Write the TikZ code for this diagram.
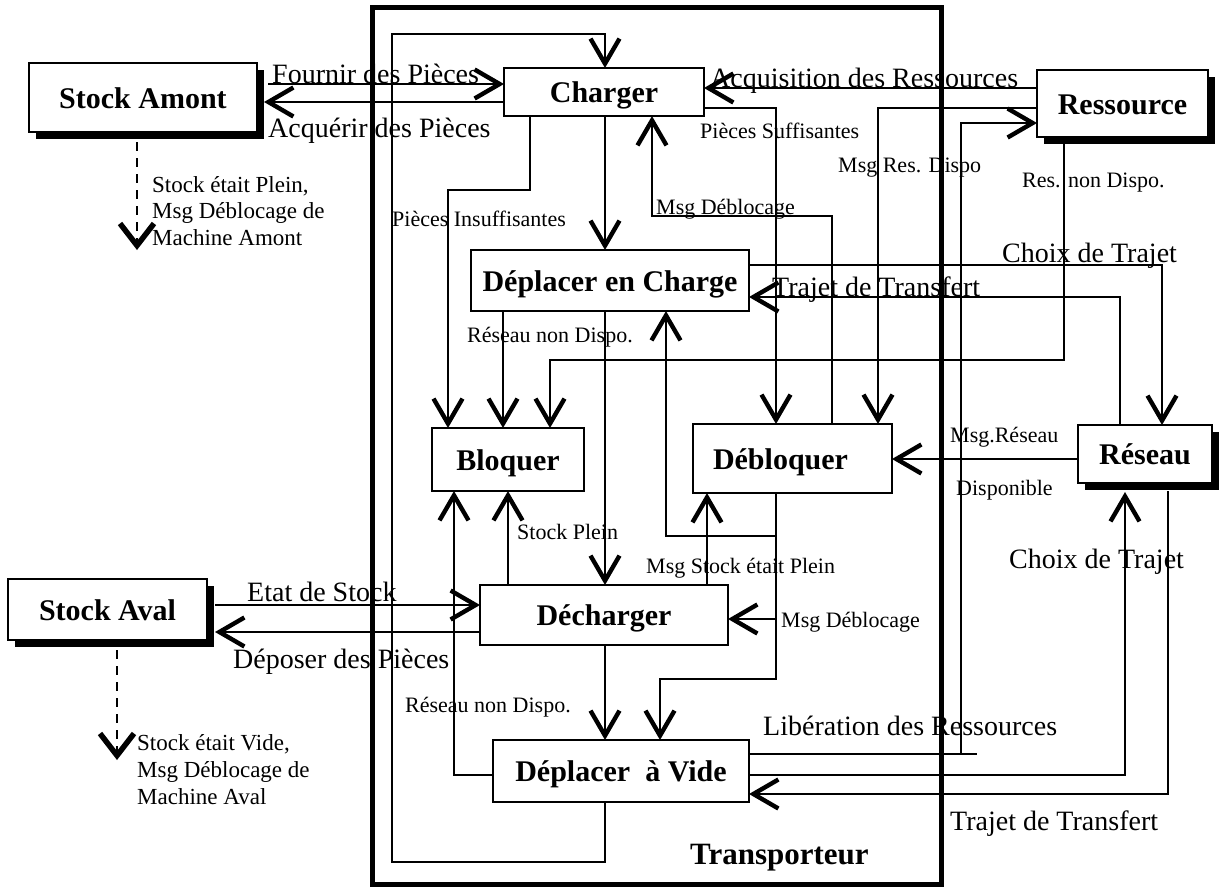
\documentclass[tikz,border=0pt]{standalone}
\usepackage{fontspec}
\setmainfont{Liberation Serif}
\usetikzlibrary{arrows.meta,shadows}
\tikzset{
  bigtip/.tip={Straight Barb[length=25pt,width=29pt,line width=4.4pt]},
  dashtip/.tip={Straight Barb[length=22pt,width=34pt,line width=5.5pt]},
}
\begin{document}
\begin{tikzpicture}[x=1pt,y=-1pt,
  box/.style={draw, line width=2.2pt, inner sep=0pt, outer sep=0pt, fill=white,
    font=\bfseries\fontsize{30}{32}\selectfont, text height=21pt, text depth=0pt},
  shad/.style={drop shadow={shadow xshift=7pt, shadow yshift=-7pt, opacity=1, fill=black}},
  conn/.style={line width=1.9pt},
  arr/.style={conn, arrows={-bigtip}},
  dasharr/.style={line width=2pt, dash pattern=on 9pt off 7pt, arrows={-dashtip}},
  big/.style={font=\fontsize{28}{30}\selectfont, anchor=base west, inner sep=0pt},
  small/.style={font=\fontsize{22}{24}\selectfont, anchor=base west, inner sep=0pt},
  note/.style={font=\fontsize{23}{25}\selectfont, anchor=base west, inner sep=0pt},
  title/.style={font=\bfseries\fontsize{31}{33}\selectfont, anchor=base west, inner sep=0pt},
]
\useasboundingbox (0,0) rectangle (1219,887);
\fill[white] (0,0) rectangle (1219,887);

% Transporteur frame
\node[draw, line width=5pt, inner sep=0pt, outer sep=0pt, minimum width=569pt, minimum height=877pt] (Transp) at (656.5,445.5) {};
\node[title] (TranspT) at (690,864) {Transporteur};

% boxes
\node[box, shad, minimum width=228pt, minimum height=69pt] (StockAmont) at (143,97.5) {Stock Amont};
\node[box, minimum width=200pt, minimum height=48pt] (Charger) at (604,92) {Charger};
\node[box, shad, minimum width=171pt, minimum height=67pt] (Ressource) at (1122.5,103.5) {Ressource};
\node[box, minimum width=278pt, minimum height=61pt] (DepCharge) at (610,280.5) {Déplacer en Charge};
\node[box, minimum width=152pt, minimum height=63pt] (Bloquer) at (508,459.5) {Bloquer};
\node[box, minimum width=199pt, minimum height=69pt] (Debloquer) at (792.5,458.5) {Débloquer\hspace*{24pt}};
\node[box, shad, minimum width=134pt, minimum height=58pt] (Reseau) at (1145,454) {Réseau};
\node[box, shad, minimum width=199pt, minimum height=61pt] (StockAval) at (107.5,609.5) {Stock Aval};
\node[box, minimum width=248pt, minimum height=60pt] (Decharger) at (604,615) {Décharger};
\node[box, minimum width=256pt, minimum height=62pt] (DepVide) at (621,771) {Déplacer\enspace à Vide};

% free-end coordinates
\coordinate (f0) at (268,84);
\coordinate (sa2) at (264,102);
\coordinate (d1) at (137,142);
\coordinate (d2) at (137,250);
\coordinate (e1) at (117,650);
\coordinate (e2) at (117,760);
\coordinate (sv1) at (215,605);
\coordinate (sv2) at (215,632);
\coordinate (lib) at (977,754);

% Stock Amont <-> Charger
\draw[arr] (f0) -- (Charger.west |- f0);
\draw[arr] (Charger.west |- sa2) -- (sa2);
\draw[dasharr] (d1) -- (d2);

% loop Deplacer a Vide -> Charger
\draw[arr] (605,0 |- DepVide.south) -- (605,862) -- (392,862) -- (392,34) -- (605,34) -- (605,0 |- Charger.north);

% Charger outputs
\draw[arr] (605,0 |- Charger.south) -- (605,0 |- DepCharge.north);
\draw[arr] (530,0 |- Charger.south) -- (530,190) -- (448,190) -- (448,0 |- Bloquer.north);
\draw[arr] (Charger.east |- 0,108) -- (776,108) -- (776,0 |- Debloquer.north);

% Debloquer -> Charger
\draw[arr] (832,0 |- Debloquer.north) -- (832,216) -- (652,216) -- (652,0 |- Charger.south);

% Ressource connections
\draw[arr] (Ressource.west |- 0,88) -- (Charger.east |- 0,88);
\draw[arr] (Ressource.west |- 0,108) -- (878,108) -- (878,0 |- Debloquer.north);
\draw[arr] (DepVide.east |- lib) -- (961,754) -- (961,123) -- (Ressource.west |- 0,123);
\draw[conn] (961,754) -- (lib);
\draw[arr] (1064,0 |- Ressource.south) -- (1064,360) -- (550,360) -- (550,0 |- Bloquer.north);

% Deplacer en Charge <-> Reseau
\draw[arr] (DepCharge.east |- 0,265) -- (1162,265) -- (1162,0 |- Reseau.north);
\draw[arr] (1120,0 |- Reseau.north) -- (1120,297) -- (DepCharge.east |- 0,297);

% Deplacer en Charge outputs
\draw[arr] (503,0 |- DepCharge.south) -- (503,0 |- Bloquer.north);
\draw[arr] (605,0 |- DepCharge.south) -- (605,0 |- Decharger.north);

% Debloquer outputs
\draw[arr] (776,0 |- Debloquer.south) -- (776,679) -- (660,679) -- (660,0 |- DepVide.north);
\draw[arr] (776,536) -- (666,536) -- (666,0 |- DepCharge.south);
\draw[arr] (776,619) -- (Decharger.east |- 0,619);

% Decharger outputs
\draw[arr] (707,0 |- Decharger.north) -- (707,0 |- Debloquer.south);
\draw[arr] (508,0 |- Decharger.north) -- (508,0 |- Bloquer.south);
\draw[arr] (605,0 |- Decharger.south) -- (605,0 |- DepVide.north);

% Deplacer a Vide -> Bloquer
\draw[arr] (DepVide.west |- 0,775) -- (454,775) -- (454,0 |- Bloquer.south);

% Stock Aval
\draw[arr] (sv1) -- (Decharger.west |- sv1);
\draw[arr] (Decharger.west |- sv2) -- (sv2);
\draw[dasharr] (e1) -- (e2);

% Reseau
\draw[arr] (Reseau.west |- 0,459) -- (Debloquer.east |- 0,459);
\draw[arr] (DepVide.east |- 0,775) -- (1125,775) -- (1125,492);
\draw[arr] (1168,491) -- (1168,794) -- (DepVide.east |- 0,794);

% labels
\node[big] at (272,83) {Fournir des Pièces};
\node[big] at (268,137) {Acquérir des Pièces};
\node[big] at (710,87) {Acquisition des Ressources};
\node[small] at (700,138) {Pièces Suffisantes};
\node[small] at (838,172) {Msg Res. Dispo};
\node[small] at (1022,187) {Res. non Dispo.};
\node[small] at (392,226) {Pièces Insuffisantes};
\node[small] at (656,214) {Msg Déblocage};
\node[big] at (1002,262) {Choix de Trajet};
\node[big] at (772,296) {Trajet de Transfert};
\node[small] at (467,342) {Réseau non Dispo.};
\node[small] at (517,539) {Stock Plein};
\node[small] at (646,573) {Msg Stock était Plein};
\node[small] at (950,442) {Msg.Réseau};
\node[small] at (956,495) {Disponible};
\node[big] at (1009,568) {Choix de Trajet};
\node[big] at (247,601) {Etat de Stock};
\node[big] at (233,668) {Déposer des Pièces};
\node[small] at (781,627) {Msg Déblocage};
\node[small] at (405,712) {Réseau non Dispo.};
\node[big] at (763,735) {Libération des Ressources};
\node[big] at (950,830) {Trajet de Transfert};

\node[note] at (152,192) {Stock était Plein,};
\node[note] at (152,218) {Msg Déblocage de};
\node[note] at (152,245) {Machine Amont};
\node[note] at (137,750) {Stock était Vide,};
\node[note] at (137,777) {Msg Déblocage de};
\node[note] at (137,804) {Machine Aval};
\end{tikzpicture}
\end{document}
